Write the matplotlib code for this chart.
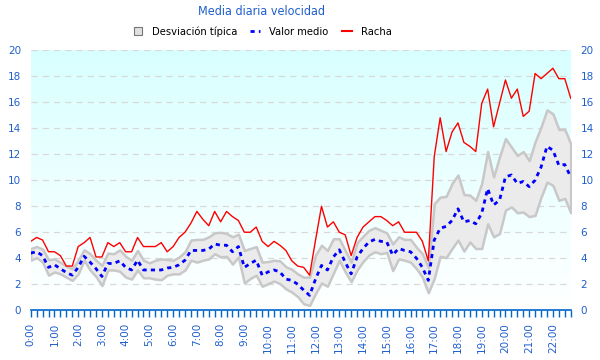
import matplotlib.pyplot as plt
import numpy as np
from matplotlib.colors import LinearSegmentedColormap
from matplotlib.lines import Line2D

# 15-minute samples from 0:00 to 22:45
racha = [5.3, 5.6, 5.4, 4.5, 4.5, 4.2, 3.4, 3.4, 4.9, 5.2,
         5.6, 4.1, 4.1, 5.2, 4.9, 5.2, 4.5, 4.5, 5.6, 4.9,
         4.9, 4.9, 5.2, 4.5, 4.9, 5.6, 6.0, 6.7, 7.6, 7.0,
         6.5, 7.6, 6.8, 7.6, 7.2, 6.9, 6.0, 6.0, 6.4, 5.3,
         4.9, 5.3, 5.0, 4.6, 3.8, 3.4, 3.3, 2.7, 5.4, 8.0,
         6.4, 6.8, 6.0, 5.8, 4.2, 5.6, 6.4, 6.8, 7.2, 7.2,
         6.9, 6.5, 6.8, 6.0, 6.0, 6.0, 5.3, 3.8, 11.8, 14.8,
         12.2, 13.7, 14.4, 12.9, 12.6, 12.2, 15.9, 17.0, 14.1, 15.9,
         17.7, 16.3, 17.0, 14.9, 15.3, 18.2, 17.8, 18.2, 18.6, 17.8,
         17.8, 16.3]

media = [4.4, 4.5, 4.2, 3.3, 3.5, 3.2, 2.9, 2.7, 3.3, 4.15,
         3.7, 3.2, 2.6, 3.6, 3.6, 3.8, 3.3, 3.1, 3.85, 3.1,
         3.1, 3.1, 3.1, 3.25, 3.3, 3.5, 3.85, 4.6, 4.6, 4.6,
         4.7, 5.1, 5.0, 5.0, 4.5, 4.9, 3.3, 3.6, 3.85, 2.7,
         2.95, 3.1, 2.95, 2.4, 2.3, 2.0, 1.55, 1.15, 2.4, 3.45,
         3.1, 4.1, 4.65, 3.7, 2.8, 4.1, 4.75, 5.25, 5.45, 5.3,
         5.25, 4.25, 4.75, 4.6, 4.5, 4.0, 3.3, 2.3, 5.4, 6.3,
         6.45, 6.9, 7.8, 6.8, 6.9, 6.65, 7.45, 9.35, 8.1, 8.45,
         10.25, 10.4, 9.75, 9.9, 9.5, 10.0, 11.0, 12.6, 12.3, 11.15,
         11.2, 10.25]

desv_sup = [4.75, 4.9, 4.7, 3.9, 3.95, 3.7, 3.4, 3.2, 3.85, 4.65,
            4.35, 3.85, 3.45, 4.4, 4.35, 4.65, 4.15, 3.85, 4.6, 3.85,
            3.65, 3.85, 3.95, 3.9, 3.85, 4.1, 4.5, 5.4, 5.45, 5.45,
            5.65, 5.95, 6.0, 5.9, 5.65, 5.85, 4.6, 4.75, 4.9, 3.7,
            3.75, 3.85, 3.8, 3.35, 3.15, 2.8, 2.55, 2.55, 4.25, 5.0,
            4.6, 5.5, 5.5, 4.6, 3.7, 5.2, 5.7, 6.15, 6.35, 6.15,
            5.95, 5.1, 5.65, 5.45, 5.45, 4.85, 4.35, 3.3, 8.2, 8.7,
            8.75, 9.75, 10.4, 8.9, 8.85, 8.45, 9.75, 12.2, 10.25, 11.8,
            13.2, 12.55, 11.9, 12.2, 11.5, 12.95, 14.1, 15.4, 15.1, 13.9,
            13.9, 12.8]

desv_inf = [3.85, 4.05, 3.7, 2.7, 2.95, 2.8, 2.55, 2.3, 2.8, 3.85,
            3.1, 2.6, 1.9, 3.1, 3.1, 3.0, 2.55, 2.4, 3.1, 2.5,
            2.5, 2.4, 2.35, 2.7, 2.8, 2.8, 3.1, 3.85, 3.7, 3.85,
            3.95, 4.35, 4.1, 4.15, 3.55, 4.1, 2.1, 2.45, 2.7, 1.85,
            2.05, 2.25, 2.05, 1.65, 1.4, 1.05, 0.5, 0.38, 1.3, 2.1,
            1.85, 2.85, 3.85, 2.95, 2.2, 3.1, 3.75, 4.25, 4.5, 4.35,
            4.45, 3.05, 3.95, 3.85, 3.7, 3.2, 2.55, 1.35, 2.45, 4.15,
            4.05, 4.75, 5.4, 4.55, 5.25, 4.75, 4.75, 6.65, 5.65, 5.9,
            7.7, 7.95, 7.5, 7.55, 7.2, 7.3, 8.7, 9.85, 9.6, 8.45,
            8.6, 7.5]

horas = [f"{h}:00" for h in range(23)]

azul = '#1f5fcc'
x = np.arange(len(media))

fig = plt.figure(figsize=(6, 3.6), dpi=100)
ax = fig.add_axes([0.0512, 0.138, 0.9, 0.723])

# cyan-to-white background
cmap = LinearSegmentedColormap.from_list('fondo', ['#ffffff', '#d8ffff'])
grad = np.linspace(0, 1, 256).reshape(-1, 1)
ax.imshow(grad, cmap=cmap, aspect='auto', origin='lower',
          extent=[0, len(x) - 1, 0, 20], zorder=0)

for yv in range(2, 21, 2):
    ax.axhline(yv, color='#d8d8d8', lw=0.9, ls=(0, (5, 4)), zorder=1)

ax.fill_between(x, desv_inf, desv_sup, facecolor='#ebebeb',
                edgecolor='#c8c8c8', lw=1.8, zorder=2)
ax.plot(x, media, color='#0000ff', lw=2.0, ls=(0, (1.5, 1.5)),
        dash_capstyle='butt', zorder=3)
ax.plot(x, racha, color='#ff0000', lw=1.0, zorder=4)

ax.set_xlim(0, len(x) - 1)
ax.set_ylim(0, 20)
ax.set_xticks(np.arange(0, 23) * 4)
ax.set_xticklabels(horas, rotation=90, color=azul, fontsize=7.5)
ax.set_xticks(x, minor=True)
ax.tick_params(axis='x', which='both', direction='out', length=5,
               color='#0066cc', width=1, pad=4)
ax.set_yticks(range(0, 21, 2))
ax.tick_params(axis='y', which='both', length=0, labelcolor=azul,
               labelsize=7.5, labelright=True, pad=7)
for s in ['top', 'left', 'right']:
    ax.spines[s].set_visible(False)
ax.spines['bottom'].set_color('#0066cc')
ax.spines['bottom'].set_linewidth(1.2)

fig.text(0.435, 0.967, 'Media diaria velocidad', ha='center', va='center',
         color=azul, fontsize=9, fontstretch='condensed')

handles = [Line2D([], [], marker='s', ls='none', markersize=6,
                  markerfacecolor='#e0e0e0', markeredgecolor='#777777',
                  markeredgewidth=0.8),
           Line2D([], [], color='#0000ff', lw=2.0, ls=(0, (1.5, 1.5))),
           Line2D([], [], color='#ff0000', lw=1.5)]
fig.legend(handles, ['Desviación típica', 'Valor medio', 'Racha'],
           loc='center', bbox_to_anchor=(0.437, 0.912), ncol=3, frameon=False,
           prop={'size': 8, 'stretch': 'condensed'}, handlelength=0.9,
           handleheight=0.7, columnspacing=1.2, handletextpad=0.8)

fig.savefig('out.png', dpi=100)
